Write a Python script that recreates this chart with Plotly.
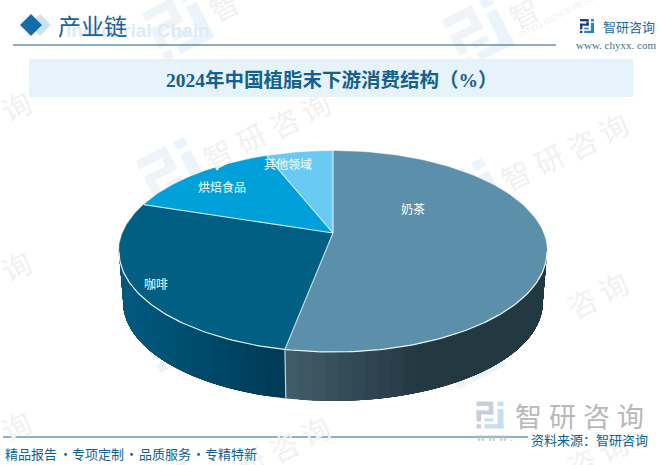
import numpy as np
import plotly.graph_objects as go

# consumption structure, %
segment_names = ['奶茶', '咖啡', '烘焙食品', '其他领域']
segment_values = [53, 27, 14, 6]
top_colors = ['#5c8fa9', '#005f82', '#00a0da', '#69caf4']
label_pos = [(413, 208), (156, 283), (222, 186), (288, 163)]

title_text = '2024年中国植脂末下游消费结构（%）'
footer_groups = [('精品报告', 31), ('·', 65), ('专项定制', 98), ('·', 131),
                 ('品质服务', 165), ('·', 198), ('专精特新', 231)]
brand_chars = ['智', '研', '咨', '询']

CJK = 'Noto Sans CJK SC'
W, H = 660, 465

# the pie is a disc seen in perspective, centre of the disc lands on the apex
APEX_X, APEX_Y = 333, 233
A, B, K = 210.4, 97.1, -0.184
WALL_SCALE, WALL_DY = 0.98, 51
ELL_Y = 251.5


def disc(theta):
    u, v = np.sin(theta), -np.cos(theta)
    w = 1 + K * v
    return APEX_X + A * u / w, APEX_Y + B * v / w


def lower(x, y):
    return APEX_X + (x - APEX_X) * WALL_SCALE, ELL_Y + WALL_DY + (y - ELL_Y) * WALL_SCALE


def mix(c1, c2, t):
    t = min(max(t, 0), 1)
    return 'rgb(%d,%d,%d)' % tuple(c1[i] + (c2[i] - c1[i]) * t for i in range(3))


def wall_color(x, seg):
    # left to right shading of the side wall
    if seg == 0:
        return mix((0x43, 0x5d, 0x6b), (0x23, 0x39, 0x42), (x - 285) / 135)
    return mix((0x00, 0x5a, 0x7e), (0x00, 0x3a, 0x56), (x - 125) / 160)


fig = go.Figure()

cum = np.cumsum([0] + segment_values) / sum(segment_values) * 2 * np.pi
right_end, left_end = np.radians(100.6), np.radians(259.4)

# side wall, each band runs on to the far end so no seams show between bands
wall_parts = [(0, right_end, cum[1]), (1, cum[1], left_end)]
for seg, t0, t1 in wall_parts:
    edges = np.linspace(t0, t1, 31)
    order = list(zip(edges[:-1], edges[1:]))
    if seg == 0:
        order = order[::-1]
    for a, b in order:
        if seg == 0:
            ts = np.linspace(right_end, b, 40)
        else:
            ts = np.linspace(a, left_end, 40)
        mid = disc((a + b) / 2)[0]
        xt, yt = disc(ts)
        xb, yb = lower(xt, yt)
        col = wall_color(mid, seg)
        fig.add_trace(go.Scatter(x=np.r_[xt, xb[::-1]], y=np.r_[yt, yb[::-1]], mode='lines',
                                 fill='toself', fillcolor=col, line=dict(color=col, width=0),
                                 hoverinfo='skip', showlegend=False))

# seam on the wall
xs, ys = disc(cum[1])
xs2, ys2 = lower(xs, ys)
fig.add_trace(go.Scatter(x=[xs, xs2], y=[ys, ys2], mode='lines', hoverinfo='skip', showlegend=False,
                         line=dict(color='rgba(225,232,236,0.85)', width=1.2)))

# top slices
for i, name in enumerate(segment_names):
    ts = np.linspace(cum[i], cum[i + 1], 120)
    xa, ya = disc(ts)
    fig.add_trace(go.Scatter(x=np.r_[APEX_X, xa, APEX_X], y=np.r_[APEX_Y, ya, APEX_Y], mode='lines',
                             fill='toself', fillcolor=top_colors[i], name=name,
                             line=dict(color=top_colors[i], width=0.5), hoverinfo='name',
                             showlegend=False))

# white rim and separators
rim = np.linspace(right_end, left_end, 160)
xr, yr = disc(rim)
fig.add_trace(go.Scatter(x=xr, y=yr, mode='lines', hoverinfo='skip', showlegend=False,
                         line=dict(color='rgba(255,255,255,0.9)', width=1.2)))
for t in cum[:-1]:
    xe, ye = disc(t)
    fig.add_trace(go.Scatter(x=[APEX_X, xe], y=[APEX_Y, ye], mode='lines', hoverinfo='skip',
                             showlegend=False, line=dict(color='rgba(235,242,246,0.85)', width=1.1)))

shapes = []
annotations = []


def rect_path(pts):
    return 'M' + 'L'.join('%.2f,%.2f' % p for p in pts) + 'Z'


def add_logo(cx, cy, size, dark, light, angle=0):
    # the four-bar company mark, unit square coordinates
    dark_bars = [(0, 0, .62, .17), (.45, .17, .62, .48), (0, .33, .62, .48), (0, .33, .17, .74), (0, .84, .17, 1)]
    light_bars = [(.78, 0, 1, .17), (.78, .27, 1, 1), (.3, .84, 1, 1), (.3, .62, .62, .74)]
    c, s = np.cos(np.radians(angle)), np.sin(np.radians(angle))
    for bars, col in ((dark_bars, dark), (light_bars, light)):
        for x0, y0, x1, y1 in bars:
            pts = []
            for px, py in ((x0, y0), (x1, y0), (x1, y1), (x0, y1)):
                dx, dy = (px - .5) * size, (py - .5) * size
                pts.append((cx + dx * c - dy * s, cy + dx * s + dy * c))
            shapes.append(dict(type='path', path=rect_path(pts), xref='x', yref='y', layer='below',
                               fillcolor=col, line=dict(width=0)))


def text(x, y, s, size, color, family=CJK, anchor='center', angle=0):
    annotations.append(dict(x=x, y=y, xref='x', yref='y', text=s, showarrow=False, xanchor=anchor,
                            yanchor='middle', textangle=angle, align='center',
                            font=dict(family=family, size=size, color=color)))


def under_pie(x, y):
    # annotations sit above traces, so skip watermark glyphs the pie would cover
    dx = (x - APEX_X) / 222
    return dx ** 2 + ((y - ELL_Y) / 106) ** 2 < 1 or dx ** 2 + ((y - ELL_Y - WALL_DY) / 112) ** 2 < 1 \
        or (abs(x - APEX_X) < 222 and ELL_Y < y < ELL_Y + WALL_DY)


# watermark tiles
tiles = [(-127, 172), (-127, 332), (-127, 492), (178, 25), (172, 173), (172, 337), (172, 497),
         (478, 32), (470, 194), (470, 353), (470, 513)]
char_offsets = [(45, -20), (78, -36), (111, -51), (142, -67)]
for lx, ly in tiles:
    add_logo(lx, ly, 54, '#f0f3f7', '#ebf4fa', -27)
    for ch, (ox, oy) in zip(brand_chars, char_offsets):
        if not under_pie(lx + ox, ly + oy) and not (52 < ly + oy < 104 and 29 < lx + ox < 633):
            text(lx + ox, ly + oy, ch, 29, '#f1f1f1', angle=-27)
    # long tag line, both ends have to stay clear of the pie and the title band
    ends = [(lx + 102 - 57, ly - 28 + 29), (lx + 102 + 57, ly - 28 - 29)]
    if not any(under_pie(ex, ey) or 52 < ey < 104 for ex, ey in ends):
        text(lx + 102, ly - 28, 'INTELLIGENCE RESEARCH GROUP', 8, '#f0f0f0', 'Liberation Sans', angle=-27)

# header
shapes.append(dict(type='path', path='M40,14L51,25L40,36L29,25Z', xref='x', yref='y', layer='below',
                   fillcolor='#cfe2ee', line=dict(width=0)))
shapes.append(dict(type='path', path='M31,14L42,25L31,36L20,25Z', xref='x', yref='y', layer='below',
                   fillcolor='#166ca8', line=dict(width=0)))
shapes.append(dict(type='line', x0=13, x1=556, y0=45, y1=45, xref='x', yref='y', layer='below',
                   line=dict(color='#1a5f8a', width=1.2)))
shapes.append(dict(type='rect', x0=29, x1=633, y0=59, y1=97, xref='x', yref='y', layer='below',
                   fillcolor='#e6f3fb', line=dict(width=0)))
text(138, 30, '<b>Industrial Chain</b>', 19, '#dcebf7', 'Liberation Sans')
text(92, 25, '产业链', 23, '#1b6298')
text(332, 80, '<b>' + title_text + '</b>', 19.5, '#14608f', 'Liberation Serif, ' + CJK)

add_logo(587, 26, 14, '#1f3f7f', '#2a80c0')
for ch, x in zip(brand_chars, [609, 622, 635, 648]):
    text(x, 26, ch, 13, '#1a6a9a')
text(616, 45, 'www. chyxx. com', 11, '#3a6f96', 'Liberation Serif')

# slice labels
for name, (lx, ly) in zip(segment_names, label_pos):
    text(lx, ly, name, 12, '#ffffff')

# footer
add_logo(490, 415, 27, '#c6cfdb', '#c5dff0')
for ch, x in zip(brand_chars, [528, 562, 596, 630]):
    text(x, 415, ch, 27, '#b8b8b8')
text(494, 437, 'w w w .', 11, '#c2c2c2', 'Liberation Sans')
shapes.append(dict(type='line', x0=3, x1=528, y0=437, y1=437, xref='x', yref='y', layer='below',
                   line=dict(color='#1769a0', width=1.2)))
text(589, 439, '资料来源：智研咨询', 13, '#0b5f95')
for s, x in footer_groups:
    text(x, 453, s, 13, '#0f5f95')

fig.update_layout(width=W, height=H, margin=dict(l=0, r=0, t=0, b=0), autosize=False,
                  paper_bgcolor='white', plot_bgcolor='white', showlegend=False,
                  xaxis=dict(visible=False, range=[0, W], fixedrange=True),
                  yaxis=dict(visible=False, range=[H, 0], fixedrange=True),
                  shapes=shapes, annotations=annotations)

fig.write_html("out.html", config=dict(displayModeBar=False),
               post_script="document.body.style.margin='0';")
